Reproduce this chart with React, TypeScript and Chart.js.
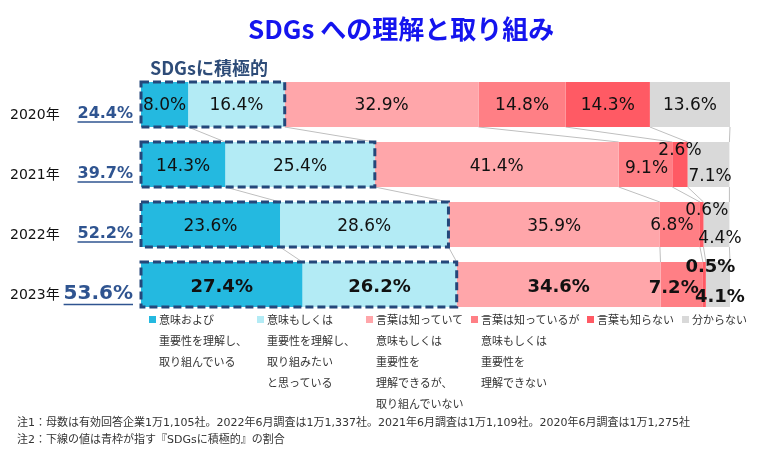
import { useEffect, useRef } from 'react';
import { Chart, registerables } from 'chart.js';

Chart.register(...registerables);

// ---- data ----
const years = ['2020年', '2021年', '2022年', '2023年'];
const activeShare = ['24.4%', '39.7%', '52.2%', '53.6%'];
const understandAndAct = [8.0, 14.3, 23.6, 27.4];
const understandWantToAct = [16.4, 25.4, 28.6, 26.2];
const knowUnderstandNoAct = [32.9, 41.4, 35.9, 34.6];
const knowNoUnderstand = [14.8, 9.1, 6.8, 7.2];
const dontKnowWord = [14.3, 2.6, 0.6, 0.5];
const notSure = [13.6, 7.1, 4.4, 4.1];
const seriesLabels = [
  ['意味および', '重要性を理解し、', '取り組んでいる'],
  ['意味もしくは', '重要性を理解し、', '取り組みたい', 'と思っている'],
  ['言葉は知っていて', '意味もしくは', '重要性を', '理解できるが、', '取り組んでいない'],
  ['言葉は知っているが', '意味もしくは', '重要性を', '理解できない'],
  ['言葉も知らない'],
  ['分からない'],
];
const notes = [
  '注1：母数は有効回答企業1万1,105社。2022年6月調査は1万1,337社。2021年6月調査は1万1,109社。2020年6月調査は1万1,275社',
  '注2：下線の値は青枠が指す『SDGsに積極的』の割合',
];

// ---- styles ----
const colors = ['#24B9E0', '#B3EBF5', '#FFA6AA', '#FF7F85', '#FF5A64', '#D9D9D9'];
const legendTextX = [159, 267, 376, 481, 597, 692];
// label nudges [dataset][row] = [dx, dy] relative to segment centre
const labelNudge: number[][][] = [
  [[0, 1], [0, 2.5], [0, 2.5], [0, 2.5]],
  [[0, 1], [0, 2.5], [0, 2.5], [0, 2.5]],
  [[0, 1], [0, 2.5], [0, 2.5], [0, 2.5]],
  [[0, 1], [1, 4], [-8, 1], [-8, 3.5]],
  [[0, 1], [0, -14], [5, -14], [6, -17.5]],
  [[0, 1], [1.5, 12], [3.5, 14], [2, 13]],
];

const overlay = {
  id: 'overlay',
  beforeDatasetsDraw(chart: any) {
    const ctx = chart.ctx;
    const metas = chart.data.datasets.map((_: any, d: number) => chart.getDatasetMeta(d));
    ctx.save();
    ctx.strokeStyle = '#BFBFBF';
    ctx.lineWidth = 1;
    for (let i = 0; i < years.length - 1; i++) {
      for (let d = 0; d < metas.length; d++) {
        const a = metas[d].data[i];
        const b = metas[d].data[i + 1];
        ctx.beginPath();
        ctx.moveTo(a.x, a.y + a.height / 2);
        ctx.lineTo(b.x, b.y - b.height / 2);
        ctx.stroke();
      }
    }
    ctx.restore();
  },
  afterDatasetsDraw(chart: any) {
    const ctx = chart.ctx;
    const metas = chart.data.datasets.map((_: any, d: number) => chart.getDatasetMeta(d));
    ctx.save();
    // dashed boxes
    ctx.setLineDash([8, 4]);
    ctx.lineWidth = 3;
    ctx.strokeStyle = '#24477A';
    for (let i = 0; i < years.length; i++) {
      const a = metas[0].data[i];
      const b = metas[1].data[i];
      const top = a.y - a.height / 2;
      ctx.strokeRect(a.base, top, b.x - a.base, a.height);
    }
    ctx.setLineDash([]);
    // value labels
    ctx.textAlign = 'center';
    ctx.textBaseline = 'middle';
    ctx.fillStyle = '#111';
    chart.data.datasets.forEach((ds: any, d: number) => {
      ds.data.forEach((v: number, i: number) => {
        const el = metas[d].data[i];
        const [dx, dy] = labelNudge[d][i];
        ctx.font = i === 3 ? 'bold 18px "DejaVu Sans"' : '17px "DejaVu Sans"';
        ctx.fillText(v.toFixed(1) + '%', (el.base + el.x) / 2 + dx, el.y + dy);
      });
    });
    // left labels
    for (let i = 0; i < years.length; i++) {
      const el = metas[0].data[i];
      ctx.textAlign = 'left';
      ctx.fillStyle = '#111';
      ctx.font = '14px "DejaVu Sans", "Noto Sans CJK JP"';
      ctx.fillText(years[i], 10, el.y + 11);
      const fs = i === 3 ? 20 : 16;
      ctx.font = `bold ${fs}px "DejaVu Sans"`;
      ctx.textAlign = 'right';
      ctx.fillStyle = '#2F5490';
      const ty = el.y + (i === 3 ? 9.5 : 9);
      ctx.fillText(activeShare[i], 133, ty);
      const w = ctx.measureText(activeShare[i]).width;
      ctx.strokeStyle = '#2F5490';
      ctx.lineWidth = 1.5;
      ctx.beginPath();
      ctx.moveTo(133 - w, ty + fs / 2 + 0.5);
      ctx.lineTo(133, ty + fs / 2 + 0.5);
      ctx.stroke();
    }
    ctx.restore();
  },
};

export default function App() {
  const ref = useRef<HTMLCanvasElement>(null);
  useEffect(() => {
    if (!ref.current) return;
    const series = [understandAndAct, understandWantToAct, knowUnderstandNoAct, knowNoUnderstand, dontKnowWord, notSure];
    const chart = new Chart(ref.current, {
      type: 'bar',
      data: {
        labels: years,
        datasets: series.map((s, d) => ({
          label: seriesLabels[d].join(''),
          data: s,
          backgroundColor: colors[d],
          borderWidth: 0,
          categoryPercentage: 1,
          barPercentage: 0.75,
        })),
      },
      options: {
        indexAxis: 'y',
        responsive: false,
        maintainAspectRatio: false,
        animation: false,
        devicePixelRatio: 1,
        layout: { padding: { left: 141, right: 40, top: 74.5, bottom: 151.5 } },
        scales: {
          x: { stacked: true, min: 0, max: 100, display: false },
          y: { stacked: true, display: false },
        },
        plugins: { legend: { display: false }, tooltip: { enabled: false }, title: { display: false } },
      },
      plugins: [overlay],
    });
    return () => chart.destroy();
  }, []);

  const font = '"Noto Sans CJK JP", "Noto Sans", sans-serif';
  return (
    <div style={{ position: 'absolute', left: 0, top: 0, width: 770, height: 466, background: '#fff', fontFamily: font, overflow: 'hidden' }}>
      <canvas ref={ref} width={770} height={466} style={{ position: 'absolute', left: 0, top: 0, width: 770, height: 466 }} />
      <div style={{ position: 'absolute', left: 248, top: 14, fontSize: 26, fontWeight: 'bold', color: '#1414EE', lineHeight: '28px', whiteSpace: 'nowrap' }}>
        SDGs への理解と取り組み
      </div>
      <div style={{ position: 'absolute', left: 150, top: 57, fontSize: 18, fontWeight: 'bold', color: '#2E4C78', lineHeight: '20px', whiteSpace: 'nowrap' }}>
        SDGsに積極的
      </div>
      {seriesLabels.map((lines, d) => (
        <div key={d} style={{ position: 'absolute', left: legendTextX[d], top: 309, fontSize: 11, lineHeight: '21px', color: '#333', whiteSpace: 'nowrap' }}>
          <span style={{ position: 'absolute', left: -10, top: 7, width: 7, height: 7, background: colors[d] }} />
          {lines.map((t, k) => (
            <div key={k}>{t}</div>
          ))}
        </div>
      ))}
      <div style={{ position: 'absolute', left: 17, top: 414, fontSize: 11, lineHeight: '17px', color: '#333', whiteSpace: 'nowrap', fontFamily: '"DejaVu Sans", "Noto Sans CJK JP", sans-serif' }}>
        {notes.map((t, k) => (
          <div key={k}>{t}</div>
        ))}
      </div>
    </div>
  );
}
